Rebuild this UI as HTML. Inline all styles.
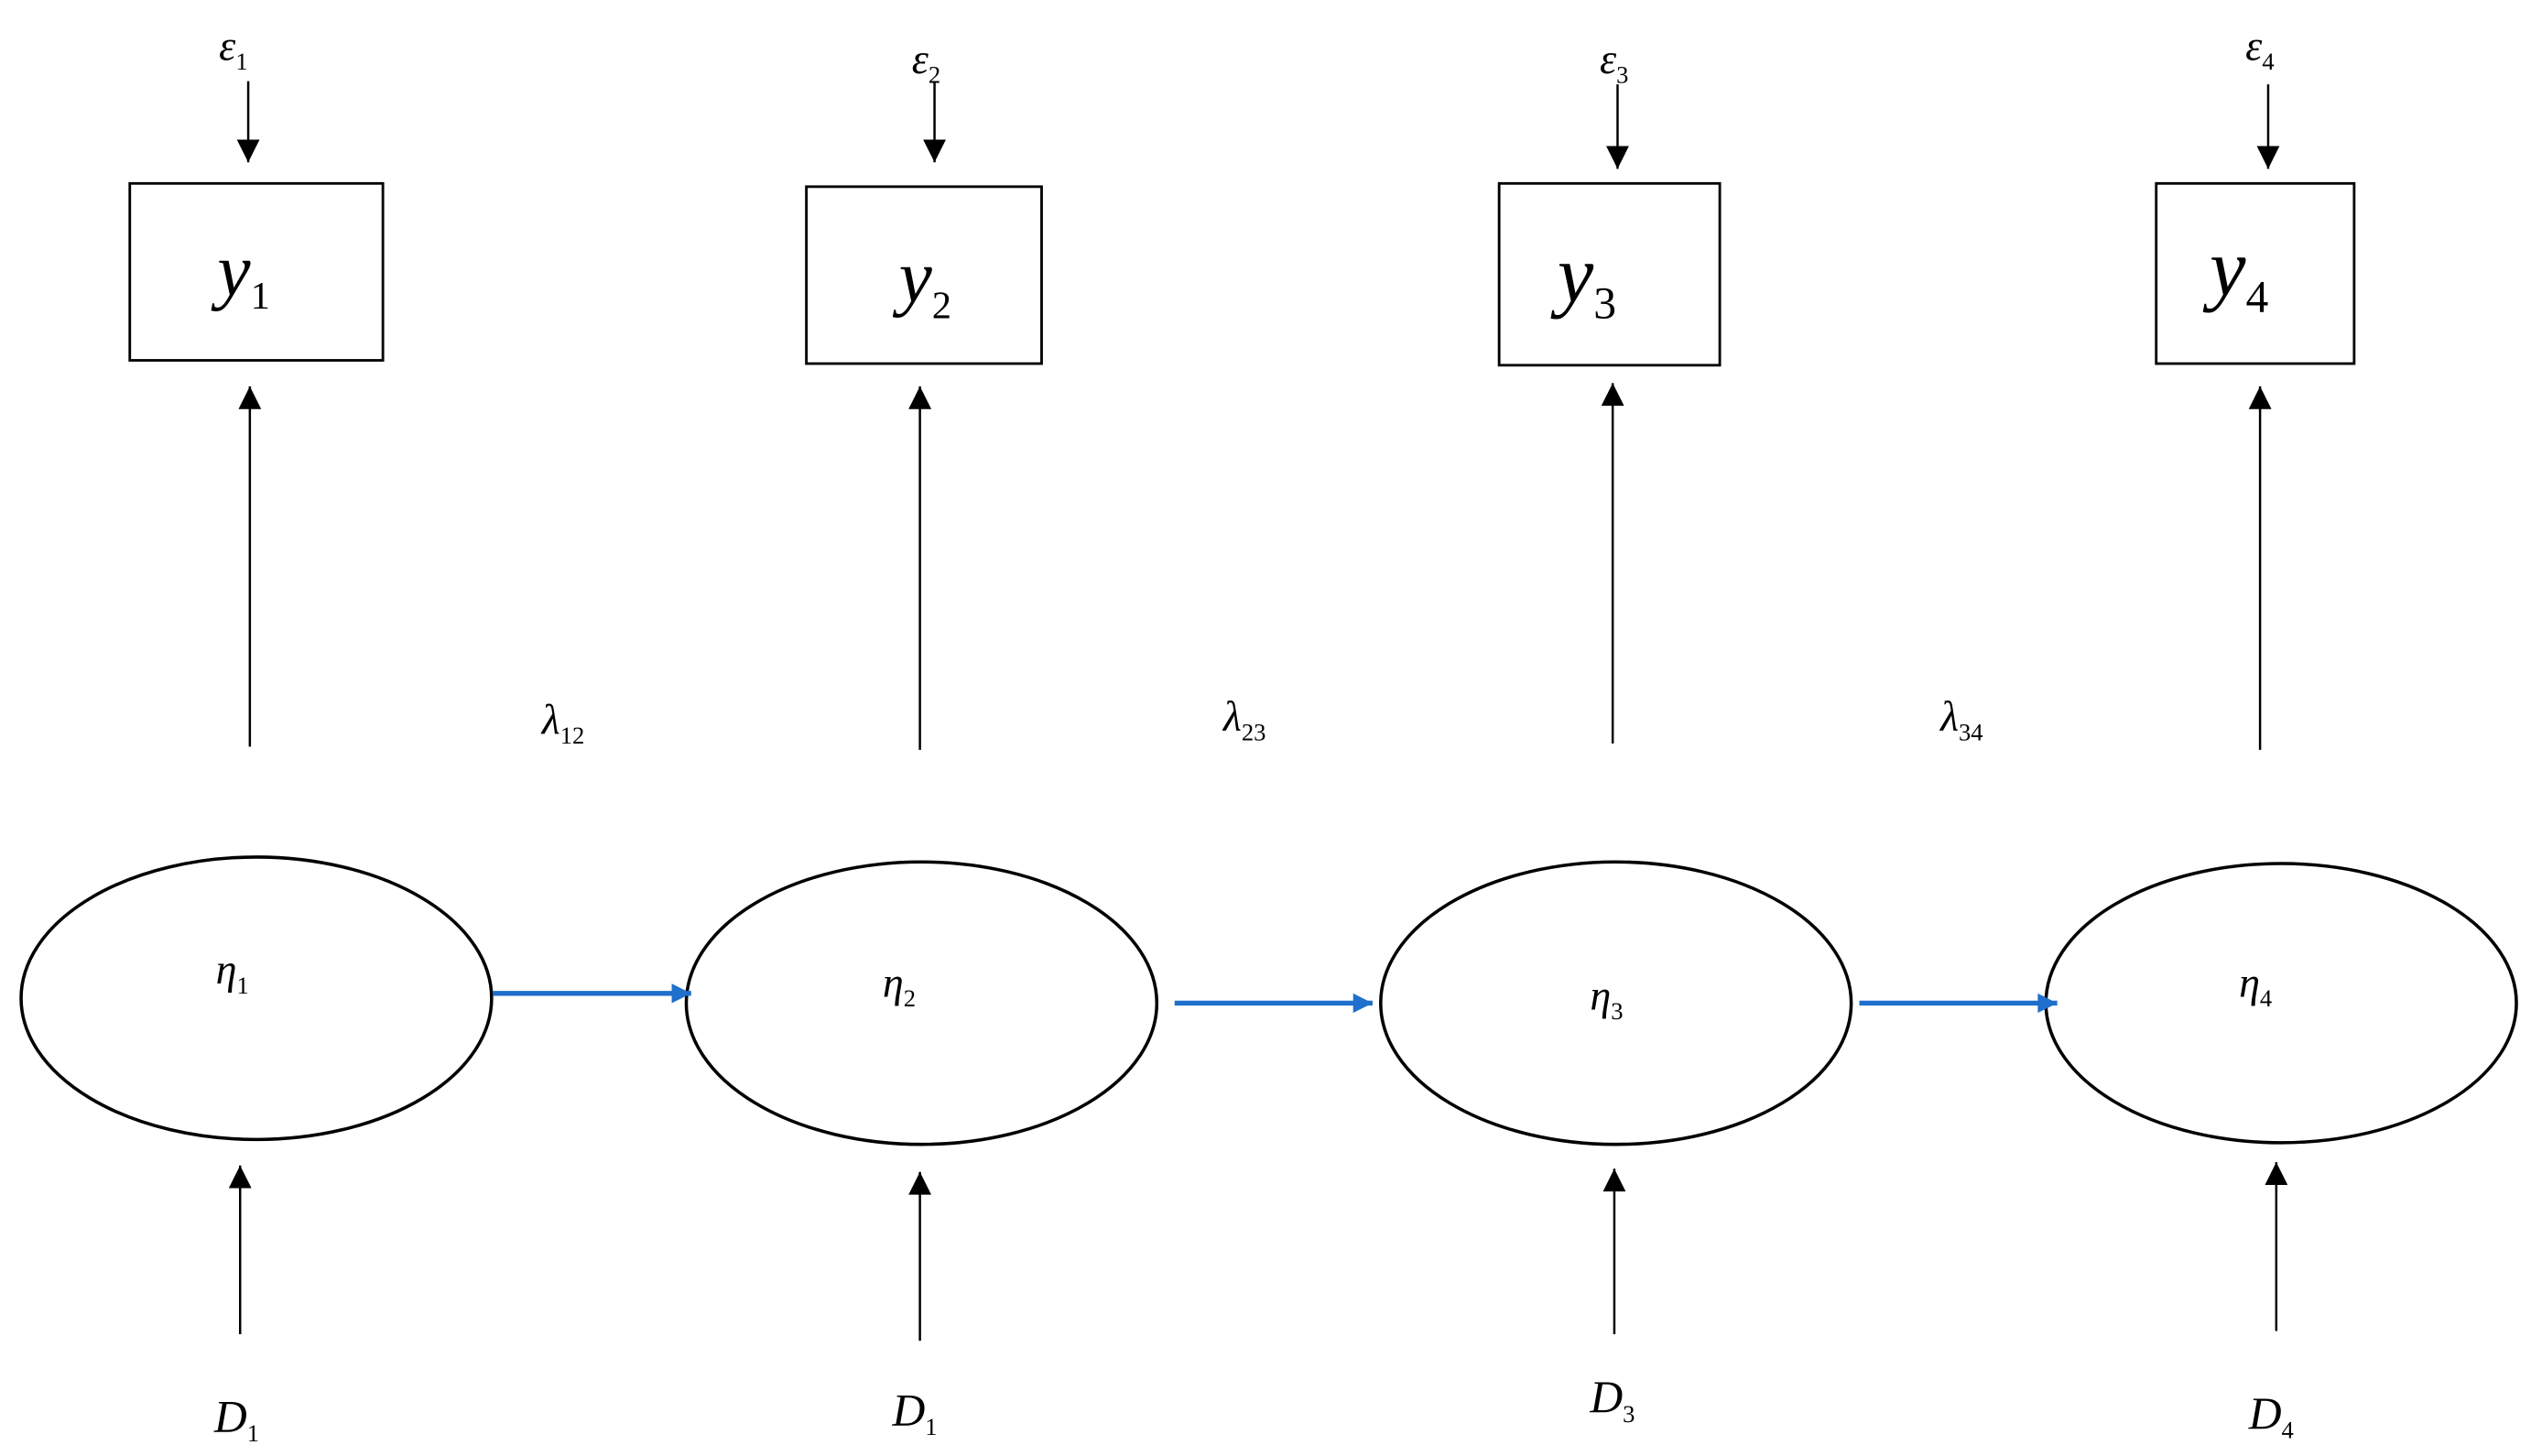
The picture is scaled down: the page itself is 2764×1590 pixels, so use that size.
<!DOCTYPE html>
<html><head><style>html,body{margin:0;padding:0;background:#fff;}svg{display:block;}</style></head>
<body>
<svg width="2764" height="1590" viewBox="0 0 1560 897" preserveAspectRatio="none" xmlns="http://www.w3.org/2000/svg" font-family="Liberation Serif, serif" font-style="italic">
<defs>
<marker id="ab" markerWidth="10" markerHeight="10" refX="9" refY="5" orient="auto" markerUnits="userSpaceOnUse"><path d="M0,0 L10,5 L0,10 z" fill="#000"/></marker>
<marker id="ak" viewBox="0 0 10 10" markerWidth="16" markerHeight="14" refX="10" refY="5" orient="auto" markerUnits="userSpaceOnUse"><path d="M0,0 L10,5 L0,10 z" fill="#000"/></marker>
<marker id="bl" viewBox="0 0 10 10" markerWidth="16" markerHeight="12" refX="10" refY="5" orient="auto" markerUnits="userSpaceOnUse"><path d="M0,0 L10,5 L0,10 z" fill="#1f6fcc"/></marker>
</defs>
<g fill="none" stroke="#000" stroke-width="1.6">
<rect x="80" y="113" width="156" height="109"/>
<rect x="497" y="115" width="145" height="109"/>
<rect x="924" y="113" width="136" height="112"/>
<rect x="1329" y="113" width="122" height="111"/>
<ellipse cx="158" cy="615" rx="145" ry="87" stroke-width="2"/>
<ellipse cx="568" cy="618" rx="145" ry="87" stroke-width="2"/>
<ellipse cx="996" cy="618" rx="145" ry="87" stroke-width="2"/>
<ellipse cx="1406" cy="618" rx="145" ry="86" stroke-width="2"/>
</g>
<g stroke="#000" stroke-width="1.4" marker-end="url(#ak)">
<line x1="153" y1="50" x2="153" y2="100"/>
<line x1="576" y1="50" x2="576" y2="100"/>
<line x1="997" y1="52" x2="997" y2="104"/>
<line x1="1398" y1="52" x2="1398" y2="104"/>
<line x1="154" y1="460" x2="154" y2="238"/>
<line x1="567" y1="462" x2="567" y2="238"/>
<line x1="994" y1="458" x2="994" y2="236"/>
<line x1="1393" y1="462" x2="1393" y2="238"/>
<line x1="148" y1="822" x2="148" y2="718"/>
<line x1="567" y1="826" x2="567" y2="722"/>
<line x1="995" y1="822" x2="995" y2="720"/>
<line x1="1403" y1="820" x2="1403" y2="716"/>
</g>
<g stroke="#1f6fcc" stroke-width="3" marker-end="url(#bl)">
<line x1="304" y1="612" x2="426" y2="612"/>
<line x1="724" y1="618" x2="846" y2="618"/>
<line x1="1146" y1="618" x2="1268" y2="618"/>
</g>
<g fill="#000">
<text x="135" y="37" font-size="26">ε<tspan font-size="15" font-style="normal" dy="6">1</tspan></text>
<text x="562" y="45" font-size="26">ε<tspan font-size="15" font-style="normal" dy="6">2</tspan></text>
<text x="986" y="45" font-size="26">ε<tspan font-size="15" font-style="normal" dy="6">3</tspan></text>
<text x="1384" y="37" font-size="26">ε<tspan font-size="15" font-style="normal" dy="6">4</tspan></text>
<text x="134" y="182" font-size="46">y<tspan font-size="24" font-style="normal" dy="8">1</tspan></text>
<text x="554" y="186" font-size="46">y<tspan font-size="24" font-style="normal" dy="10">2</tspan></text>
<text x="960" y="186" font-size="50">y<tspan font-size="28" font-style="normal" dy="10">3</tspan></text>
<text x="1362" y="182" font-size="50">y<tspan font-size="28" font-style="normal" dy="10">4</tspan></text>
<text x="334" y="452" font-size="26">λ<tspan font-size="15" font-style="normal" dy="6">12</tspan></text>
<text x="754" y="450" font-size="26">λ<tspan font-size="15" font-style="normal" dy="6">23</tspan></text>
<text x="1196" y="450" font-size="26">λ<tspan font-size="15" font-style="normal" dy="6">34</tspan></text>
<text x="133" y="606" font-size="26">η<tspan font-size="15" font-style="normal" dy="6">1</tspan></text>
<text x="544" y="614" font-size="26">η<tspan font-size="15" font-style="normal" dy="6">2</tspan></text>
<text x="980" y="622" font-size="26">η<tspan font-size="15" font-style="normal" dy="6">3</tspan></text>
<text x="1380" y="614" font-size="26">η<tspan font-size="15" font-style="normal" dy="6">4</tspan></text>
<text x="132" y="882" font-size="28">D<tspan font-size="15" font-style="normal" dy="6">1</tspan></text>
<text x="550" y="878" font-size="28">D<tspan font-size="15" font-style="normal" dy="6">1</tspan></text>
<text x="980" y="870" font-size="28">D<tspan font-size="15" font-style="normal" dy="6">3</tspan></text>
<text x="1386" y="880" font-size="28">D<tspan font-size="15" font-style="normal" dy="6">4</tspan></text>
</g>
</svg>
</body></html>
